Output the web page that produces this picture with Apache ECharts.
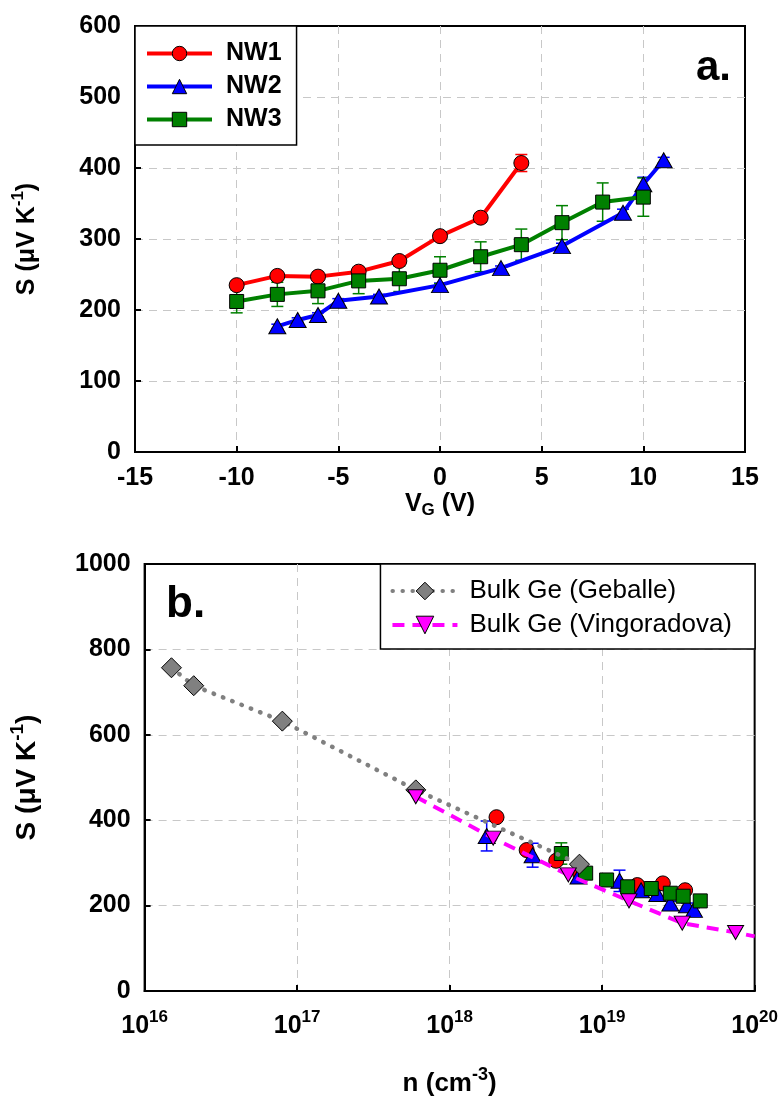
<!DOCTYPE html>
<html>
<head>
<meta charset="utf-8">
<title>Seebeck coefficient of Ge nanowires</title>
<script src="https://cdn.jsdelivr.net/npm/echarts@6/dist/echarts.min.js"></script>
<style>
  html, body { margin: 0; padding: 0; background: #fff; }
  #chart { width: 781px; height: 1101px; }
</style>
</head>
<body>
<div id="chart"></div>
<script>
// panel a: S vs gate voltage
const vg1 = [-10, -8, -6, -4, -2, 0, 2, 4];
const s1 = [235, 248, 247, 254, 269, 304, 330, 407];
const e1 = [4, 4, 4, 4, 4, 5, 6, 12];
const vg2 = [-8, -7, -6, -5, -3, 0, 3, 6, 9, 10, 11];
const s2 = [177, 186, 193, 213, 219, 235, 259, 290, 337, 377, 411];
const e2 = [3, 3, 3, 3, 3, 3, 3, 4, 5, 10, 4];
const vg3 = [-10, -8, -6, -4, -2, 0, 2, 4, 6, 8, 10];
const s3 = [212, 222, 227, 241, 244, 256, 275, 292, 323, 352, 359];
const e3 = [16, 17, 18, 18, 18, 19, 21, 22, 24, 27, 27];

// panel b: S vs carrier density
const n1 = [2.03e18, 3.2e18, 5.0e18, 7.2e18, 1.7e19, 2.5e19, 3.5e19];
const b1 = [407, 330, 305, 272, 248, 252, 236];
const be1 = [4, 4, 4, 4, 4, 4, 4];
const n2 = [1.75e18, 3.5e18, 7.0e18, 1.3e19, 1.8e19, 2.3e19, 2.8e19, 3.6e19, 4.0e19];
const b2 = [363, 318, 268, 258, 236, 227, 205, 201, 190];
const be2 = [35, 28, 12, 25, 8, 15, 5, 5, 5];
const n3 = [5.4e18, 7.8e18, 1.07e19, 1.47e19, 2.1e19, 2.8e19, 3.4e19, 4.4e19];
const b3 = [322, 276, 260, 244, 240, 229, 222, 211];
const be3 = [25, 8, 6, 6, 8, 6, 6, 6];
const geballeN = [1.5e16, 2.1e16, 8.0e16, 6.0e17, 7.1e18];
const geballeS = [757, 715, 632, 471, 297];
const vingN = [6.0e17, 1.93e18, 6.0e18, 1.5e19, 3.35e19, 7.5e19, 1e20];
const vingS = [455, 358, 272, 211, 159, 137, 128];

const vgTicks = [-15, -10, -5, 0, 5, 10, 15];
const decades = [16, 17, 18, 19, 20];

const FONT = '"Liberation Sans", Arial, sans-serif';
const RED = '#ff0000', BLUE = '#0000ff', GREEN = '#008000';
const GRAY = '#808080', MAGENTA = '#ff00ff';

const pairs = (xs, ys) => xs.map((x, i) => [x, ys[i]]);

function errBars(color, xs, ys, es, gi) {
  return {
    type: 'custom',
    xAxisIndex: gi,
    yAxisIndex: gi,
    z: 2,
    silent: true,
    data: xs.map((x, i) => [x, ys[i] - es[i], ys[i] + es[i]]),
    renderItem(params, api) {
      const top = api.coord([api.value(0), api.value(2)]);
      const bot = api.coord([api.value(0), api.value(1)]);
      const w = 6;
      const style = { stroke: color, lineWidth: 1.5 };
      return {
        type: 'group',
        children: [
          { type: 'line', shape: { x1: top[0], y1: top[1], x2: bot[0], y2: bot[1] }, style },
          { type: 'line', shape: { x1: top[0] - w, y1: top[1], x2: top[0] + w, y2: top[1] }, style },
          { type: 'line', shape: { x1: bot[0] - w, y1: bot[1], x2: bot[0] + w, y2: bot[1] }, style }
        ]
      };
    }
  };
}

function marker(color, symbol, size) {
  return {
    symbol,
    symbolSize: size,
    itemStyle: { color, borderColor: '#000', borderWidth: 1, opacity: 1 }
  };
}

const axisCommon = {
  axisLine: { onZero: false, lineStyle: { color: '#000', width: 2 } },
  axisTick: { inside: true, length: 6, lineStyle: { color: '#000', width: 2 } },
  axisLabel: { color: '#000', fontFamily: FONT, fontWeight: 'bold', fontSize: 25, margin: 14, formatter: v => String(v) },
  splitLine: { show: true, showMinLine: false, showMaxLine: false, lineStyle: { color: '#c8c8c8', type: [8, 6], width: 1 } },
  nameLocation: 'middle',
  nameTextStyle: { color: '#000', fontFamily: FONT, fontWeight: 'bold', fontSize: 25 }
};

const supRich = (size, sup) => ({
  a: { fontFamily: FONT, fontWeight: 'bold', fontSize: size, color: '#000' },
  s: { fontFamily: FONT, fontWeight: 'bold', fontSize: sup, color: '#000', padding: [0, 0, size * 0.7, 0] }
});

const chart = echarts.init(document.getElementById('chart'));

chart.setOption({
  backgroundColor: '#fff',
  animation: false,
  grid: [
    { left: 135, top: 26, width: 610, height: 426, show: true, borderColor: '#000', borderWidth: 2 },
    { left: 144, top: 564, width: 611, height: 427, show: true, borderColor: '#000', borderWidth: 2 }
  ],
  xAxis: [
    Object.assign({}, axisCommon, {
      type: 'value', gridIndex: 0, min: vgTicks[0], max: vgTicks[vgTicks.length - 1], interval: 5,
      name: '{a|V}{g|G}{a| (V)}',
      nameGap: 26,
      nameTextStyle: Object.assign({}, axisCommon.nameTextStyle, {
        rich: {
          a: { fontFamily: FONT, fontWeight: 'bold', fontSize: 25, color: '#000' },
          g: { fontFamily: FONT, fontWeight: 'bold', fontSize: 17, color: '#000', padding: [12, 0, 0, 0] }
        }
      })
    }),
    Object.assign({}, axisCommon, {
      type: 'log', logBase: 10, gridIndex: 1,
      min: Math.pow(10, decades[0]), max: Math.pow(10, decades[decades.length - 1]),
      axisLabel: Object.assign({}, axisCommon.axisLabel, {
        margin: 18,
        formatter: v => '{a|10}{s|' + Math.round(Math.log10(v)) + '}',
        rich: supRich(25, 17)
      }),
      name: '{a|n (cm}{s|-3}{a|)}',
      nameGap: 75,
      nameTextStyle: Object.assign({}, axisCommon.nameTextStyle, { rich: supRich(26, 18) })
    })
  ],
  yAxis: [
    Object.assign({}, axisCommon, {
      type: 'value', gridIndex: 0, min: 0, max: 600, interval: 100,
      name: '{a|S (μV K}{s|-1}{a|)}',
      nameGap: 91,
      nameTextStyle: Object.assign({}, axisCommon.nameTextStyle, { rich: supRich(25, 17) })
    }),
    Object.assign({}, axisCommon, {
      type: 'value', gridIndex: 1, min: 0, max: 1000, interval: 200,
      name: '{a|S (μV K}{s|-1}{a|)}',
      nameGap: 98,
      nameTextStyle: Object.assign({}, axisCommon.nameTextStyle, { rich: supRich(28, 19) })
    })
  ],
  legend: [
    {
      data: ['NW1', 'NW2', 'NW3'],
      orient: 'vertical',
      left: 135, top: 26,
      padding: [15, 15, 13, 10],
      itemWidth: 65, itemHeight: 18, itemGap: 8,
      borderColor: '#000', borderWidth: 1.5,
      backgroundColor: '#fff',
      lineStyle: { width: 4 },
      itemStyle: { borderColor: '#000', borderWidth: 1 },
      textStyle: { fontFamily: FONT, fontWeight: 'bold', fontSize: 25, color: '#000', padding: [0, 0, 0, 9] }
    },
    {
      data: ['Bulk Ge (Geballe)', 'Bulk Ge (Vingoradova)'],
      orient: 'vertical',
      right: 26, top: 564,
      padding: [14, 23, 11, 10],
      itemWidth: 65, itemHeight: 22, itemGap: 8,
      borderColor: '#000', borderWidth: 1.5,
      backgroundColor: '#fff',
      lineStyle: { width: 4 },
      itemStyle: { borderColor: '#000', borderWidth: 1 },
      textStyle: { fontFamily: FONT, fontSize: 26, color: '#000', padding: [0, 0, 0, 7] }
    }
  ],
  graphic: [
    { type: 'text', left: 696, top: 47, style: { text: 'a.', font: 'bold 42px ' + FONT, fill: '#000' } },
    { type: 'text', left: 166, top: 583, style: { text: 'b.', font: 'bold 44px ' + FONT, fill: '#000' } }
  ],
  series: [
    Object.assign({ type: 'line', name: 'NW1', data: pairs(vg1, s1), z: 3,
      lineStyle: { color: RED, width: 4 } }, marker(RED, 'circle', 15)),
    Object.assign({ type: 'line', name: 'NW2', data: pairs(vg2, s2), z: 3,
      lineStyle: { color: BLUE, width: 4 } }, marker(BLUE, 'triangle', [17, 15])),
    Object.assign({ type: 'line', name: 'NW3', data: pairs(vg3, s3), z: 3,
      lineStyle: { color: GREEN, width: 4 } }, marker(GREEN, 'rect', 14)),
    errBars(RED, vg1, s1, e1, 0),
    errBars(BLUE, vg2, s2, e2, 0),
    errBars(GREEN, vg3, s3, e3, 0),

    errBars(RED, n1, b1, be1, 1),
    errBars(BLUE, n2, b2, be2, 1),
    errBars(GREEN, n3, b3, be3, 1),
    Object.assign({ type: 'scatter', name: 'NW1b', xAxisIndex: 1, yAxisIndex: 1, z: 3,
      data: pairs(n1, b1) }, marker(RED, 'circle', 15)),
    Object.assign({ type: 'scatter', name: 'NW2b', xAxisIndex: 1, yAxisIndex: 1, z: 3,
      data: pairs(n2, b2) }, marker(BLUE, 'triangle', [17, 15])),
    Object.assign({ type: 'scatter', name: 'NW3b', xAxisIndex: 1, yAxisIndex: 1, z: 3,
      data: pairs(n3, b3) }, marker(GREEN, 'rect', 14)),
    Object.assign({ type: 'line', name: 'Bulk Ge (Geballe)', xAxisIndex: 1, yAxisIndex: 1, z: 4,
      data: pairs(geballeN, geballeS),
      lineStyle: { color: GRAY, width: 4.5, type: [0.5, 9.5], cap: 'round' } }, marker(GRAY, 'diamond', 20)),
    Object.assign({ type: 'line', name: 'Bulk Ge (Vingoradova)', xAxisIndex: 1, yAxisIndex: 1, z: 4,
      data: pairs(vingN, vingS).map((p, i) => i === vingN.length - 1 ? { value: p, symbol: 'none' } : p),
      symbolRotate: 180,
      lineStyle: { color: MAGENTA, width: 4, type: [12, 8] } }, marker(MAGENTA, 'triangle', [16, 14]))
  ]
});
</script>
</body>
</html>
